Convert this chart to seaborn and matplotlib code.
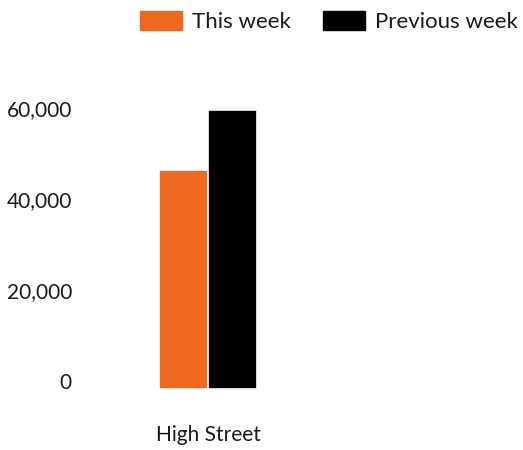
import matplotlib
matplotlib.use("Agg")
import matplotlib.pyplot as plt
import seaborn as sns
import pandas as pd

categories = ["High Street"]
this_week = [48100]
previous_week = [61300]
series_names = ["This week", "Previous week"]
colors = ["#EC691F", "#000000"]
y_ticks = [0, 20000, 40000, 60000]

df = pd.DataFrame({
    "location": categories * 2,
    "visits": this_week + previous_week,
    "week": [series_names[0]] * len(categories) + [series_names[1]] * len(categories),
})

sns.set_style("white")
plt.rcParams["font.family"] = ["Lato", "DejaVu Sans"]
text_color = "#1a1a1a"
fs = 15

W, H = 523, 450
fig = plt.figure(figsize=(W / 100, H / 100), dpi=100)
# plot area in pixels: left 90, right 520, bottom 389, top 98
left, right, bottom, top = 90, 520, 389, 98
ax = fig.add_axes([left / W, (H - bottom) / H, (right - left) / W, (bottom - top) / H])

sns.barplot(data=df, x="location", y="visits", hue="week", palette=colors,
            saturation=1, width=0.81, edgecolor="white", linewidth=1.2, ax=ax, legend=False)

ax.set_xlim(-(208 - left) / 120, (right - 208) / 120)
ax.set_ylim(0, 64000)
ax.set_yticks(y_ticks)
ax.set_yticklabels([f"{v:,}" for v in y_ticks])
for lab in ax.get_yticklabels():
    lab.set_verticalalignment("baseline")
ax.tick_params(axis="y", length=0, pad=13, labelsize=fs, labelcolor=text_color)
ax.tick_params(axis="x", length=0, pad=26, labelsize=fs, labelcolor=text_color)
ax.set_xlabel("")
ax.set_ylabel("")
ax.grid(False)
sns.despine(ax=ax, left=True, bottom=True)

handles = [plt.Rectangle((0, 0), 1, 1, color=c) for c in colors]
fig.legend(handles, series_names, loc="upper right",
           bbox_to_anchor=(518 / W, 1 - 11 / H), ncol=2, frameon=False,
           fontsize=16, labelcolor=text_color, handlelength=1.9, handleheight=0.95,
           handletextpad=0.45, columnspacing=1.45, borderpad=0, borderaxespad=0)

fig.savefig("out.png", dpi=100)
